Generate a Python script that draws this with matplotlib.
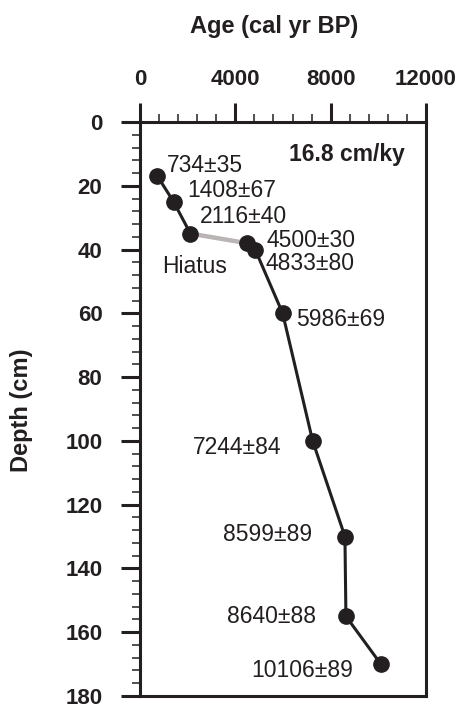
import matplotlib.pyplot as plt
from matplotlib.ticker import MultipleLocator

# radiocarbon ages (cal yr BP) and sample depths (cm)
ages = [734, 1408, 2116, 4500, 4833, 5986, 7244, 8599, 8640, 10106]
depths = [17, 25, 35, 38, 40, 60, 100, 130, 155, 170]
labels = ['734±35', '1408±67', '2116±40', '4500±30', '4833±80',
          '5986±69', '7244±84', '8599±89', '8640±88', '10106±89']
# label anchor (left edge, vertical centre) in data units
label_x = [1130, 1970, 2520, 5290, 5245, 6545, 2200, 3480, 3650, 4650]
label_y = [13.5, 21.6, 29.7, 37.3, 44.5, 62, 102, 129.5, 155, 172]
hiatus_idx = 2  # hiatus between sample 2 and 3

ink = '#231f20'
plt.rcParams['font.family'] = ['Liberation Sans', 'DejaVu Sans']

fig = plt.figure(figsize=(4.58, 7.08), dpi=100)
ax = fig.add_axes([140 / 458, 12 / 708, 286 / 458, 574 / 708])

i = hiatus_idx
ax.plot(ages[:i + 1], depths[:i + 1], color=ink, lw=2.2, zorder=2)
ax.plot(ages[i:i + 2], depths[i:i + 2], color='#bab4b4', lw=3.2, zorder=1)
ax.plot(ages[i + 1:], depths[i + 1:], color=ink, lw=2.2, zorder=2)
ax.plot(ages, depths, 'o', color=ink, ms=11, zorder=3)

for t, x, y in zip(labels, label_x, label_y):
    ax.text(x, y, t, fontsize=16.5, color=ink, ha='left', va='center')
ax.text(920, 45.4, 'Hiatus', fontsize=16.5, color=ink, ha='left', va='center')
ax.text(6250, 10.3, '16.8 cm/ky', fontsize=16.5, fontweight='bold',
        color=ink, ha='left', va='center')

ax.set_xlim(0, 12000)
ax.set_ylim(180, 0)
ax.xaxis.tick_top()
ax.xaxis.set_label_position('top')
ax.xaxis.set_major_locator(MultipleLocator(4000))
ax.xaxis.set_minor_locator(MultipleLocator(800))
ax.yaxis.set_major_locator(MultipleLocator(20))
ax.yaxis.set_minor_locator(MultipleLocator(4))

ax.tick_params(which='major', direction='out', length=14, width=2.2,
               color=ink, labelcolor=ink, labelsize=16)
ax.tick_params(which='minor', direction='out', length=6, width=1.1, color=ink)
ax.tick_params(axis='x', which='major', pad=9)
ax.tick_params(axis='y', which='major', pad=13)
for lab in ax.get_xticklabels() + ax.get_yticklabels():
    lab.set_fontweight('bold')
for sp in ax.spines.values():
    sp.set_linewidth(2.2)
    sp.set_color(ink)

ax.set_xlabel('Age (cal yr BP)', fontsize=17, fontweight='bold', color=ink)
ax.set_ylabel('Depth (cm)', fontsize=17, fontweight='bold', color=ink)
ax.xaxis.set_label_coords(0.4685, 1.155)
ax.yaxis.set_label_coords(-0.374, 0.498)

fig.savefig('out.png', dpi=100)
